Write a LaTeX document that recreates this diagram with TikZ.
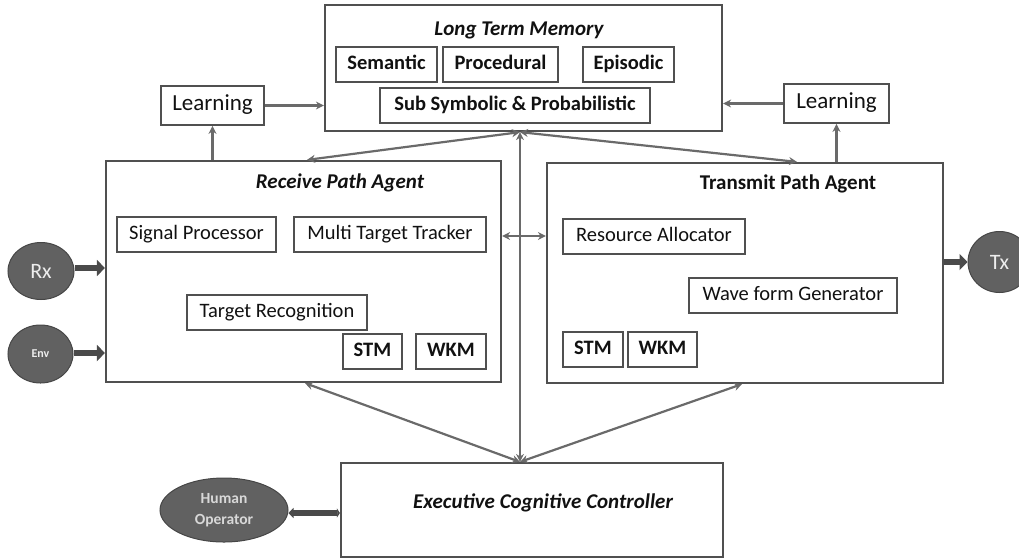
\documentclass[tikz,border=0pt]{standalone}
\usepackage{fontspec}
\setmainfont{Carlito}
\usetikzlibrary{arrows.meta,shapes.geometric,calc}
\definecolor{edge}{HTML}{505050}
\definecolor{wire}{HTML}{6A6A6A}
\definecolor{disk}{HTML}{616161}
\definecolor{diskrim}{HTML}{464646}
\definecolor{ink}{HTML}{111111}
\definecolor{pale}{HTML}{EDEDED}
\definecolor{paler}{HTML}{D8D8D8}
\begin{document}
\begin{tikzpicture}[x=1pt,y=-1pt,
  sz/.style 2 args={minimum width=#1pt,minimum height=#2pt},
  panel/.style={draw=edge,line width=2.2pt,inner sep=0pt,fill=white},
  part/.style={draw=edge,line width=1.4pt,inner sep=0pt,fill=white,text=ink,
    font=\fontsize{20.5}{24}\selectfont,text height=13pt,text depth=4pt},
  boldpart/.style={part,font=\fontsize{20.5}{24}\selectfont\bfseries},
  learnbox/.style={draw=edge,line width=1.8pt,inner sep=0pt,fill=white,text=ink,
    font=\fontsize{23}{26}\selectfont,text height=15pt,text depth=5pt},
  heading/.style={inner sep=0pt,text=ink,font=\fontsize{21}{24}\selectfont\bfseries},
  disc/.style={ellipse,draw=diskrim,line width=1pt,fill=disk,inner sep=0pt,text=pale},
  link/.style={draw=wire,line width=2.2pt},
  one/.style={link,-{Stealth[length=8pt,width=8pt]}},
  both/.style={link,{Stealth[length=8pt,width=8pt]}-{Stealth[length=8pt,width=8pt]}},
  fat/.style={draw=diskrim!85!disk,line width=6.5pt,-{Triangle[length=8pt,width=16pt]}},
  fatboth/.style={draw=diskrim!85!disk,line width=5.5pt,
    {Triangle[length=5pt,width=10pt]}-{Triangle[length=3pt,width=9pt]}}
]
\useasboundingbox (0,0) rectangle (1019,558);

% ---- long term memory ----
\node[panel,sz={397}{126}] (ltm) at (523.5,68) {};
\node[heading] (ltmtitle) at (519,30) {\itshape Long Term Memory};
\node[boldpart,sz={101}{35}] (sem) at (386.5,64.5) {Semantic};
\node[boldpart,sz={115}{35}] (proc) at (500.5,64.5) {Procedural};
\node[boldpart,sz={91}{35}] (epi) at (628.5,64.5) {Episodic};
\node[boldpart,sz={270}{35}] (subsym) at (515,105.5) {Sub Symbolic \& Probabilistic};

% ---- learning boxes ----
\node[learnbox,sz={103}{39}] (lrnL) at (212.5,105.5) {Learning};
\node[learnbox,sz={105}{39}] (lrnR) at (836.5,103.5) {Learning};

% ---- receive path agent ----
\node[panel,sz={395}{221}] (rcv) at (303.5,271.5) {};
\node[heading] (rcvtitle) at (340,183) {\itshape Receive Path Agent};
\node[part,sz={159}{35}] (sigp) at (196.5,234.5) {Signal Processor};
\node[part,sz={192}{35}] (mtt) at (390,234.5) {Multi Target Tracker};
\node[part,sz={180}{35}] (trec) at (277,312.5) {Target Recognition};
\node[boldpart,sz={59}{35}] (rstm) at (372.5,351.5) {STM};
\node[boldpart,sz={70}{35}] (rwkm) at (451,351.5) {WKM};

% ---- transmit path agent ----
\node[panel,sz={396}{220}] (xmt) at (745,273) {};
\node[heading] (xmttitle) at (788,184) {Transmit Path Agent};
\node[part,sz={182}{35}] (ralloc) at (654,236.5) {Resource Allocator};
\node[part,sz={208}{35}] (wave) at (793,295.5) {Wave form Generator};
\node[boldpart,sz={60}{35}] (xstm) at (593,349.5) {STM};
\node[boldpart,sz={69}{35}] (xwkm) at (662.5,349.5) {WKM};

% ---- executive controller ----
\node[panel,sz={382}{94}] (ecc) at (532,510) {};
\node[heading] (ecctitle) at (543,503) {\itshape Executive Cognitive Controller};

% ---- external actors ----
\node[disc,sz={66}{57},font=\fontsize{22}{24}\selectfont] (rx) at (41,271) {Rx};
\node[disc,sz={65}{58},font=\fontsize{12}{14}\selectfont\bfseries] (env) at (40.5,354) {Env};
\node[disc,sz={63}{61},font=\fontsize{22}{24}\selectfont] (tx) at (999.5,262) {Tx};
\node[disc,sz={128}{64},align=center,text=paler,
  font=\fontsize{15.5}{21}\selectfont\bfseries] (hum) at (224,510) {Human\\Operator};

% ---- learning loops ----
\draw[one] (rcv.north -| lrnL) -- (lrnL.south);
\draw[one] (lrnL.east) -- (lrnL.east -| ltm.west);
\draw[one] (xmt.north -| lrnR) -- (lrnR.south);
\draw[one] (lrnR.west) -- (lrnR.west -| ltm.east);

% ---- memory and control links ----
\draw[both] (rcv.north -| 307,0) -- (ltm.south -| 520,0);
\draw[both] (xmt.north -| 797,0) -- (ltm.south -| 520,0);
\draw[both] (ecc.north -| 520,0) -- (ltm.south -| 520,0);
\draw[both] (rcv.south -| 305,0) -- (ecc.north -| 520,0);
\draw[both] (xmt.south -| 742,0) -- (ecc.north -| 520,0);
\draw[both] (rcv.east |- 0,236) -- (xmt.west |- 0,236);

% ---- sensor and emitter paths ----
\draw[fat] (rx.east |- 0,268) -- (rcv.west |- 0,268);
\draw[fat] (env.east |- 0,353) -- (rcv.west |- 0,353);
\draw[fat] (xmt.east |- 0,262) -- (tx.west);
\draw[fatboth] (hum.east |- 0,513) -- (ecc.west |- 0,513);
\end{tikzpicture}
\end{document}
